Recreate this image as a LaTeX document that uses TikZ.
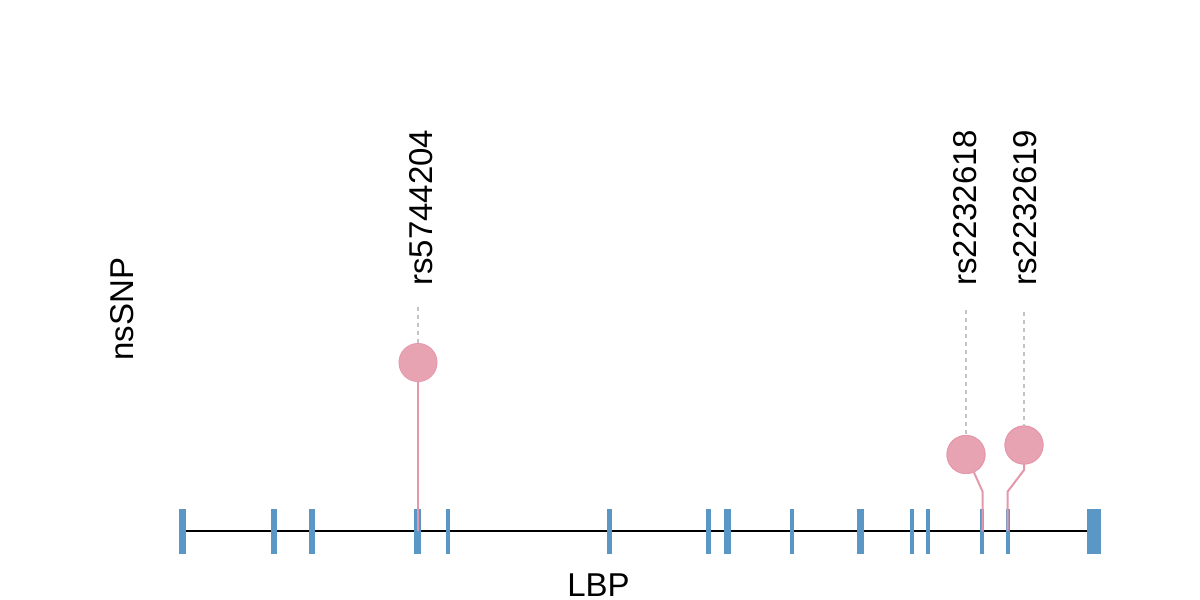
\documentclass[tikz,border=0pt]{standalone}
\usepackage{fontspec}
\setmainfont{Liberation Sans}
\begin{document}
\begin{tikzpicture}[x=1pt,y=-1pt,
  exon/.style={fill=exonblue,draw=none},
  lolly/.style={circle,fill=lollyfill,draw=lollyedge,line width=1pt,minimum size=38pt,inner sep=0pt},
  stem/.style={draw=lollyedge,line width=2pt},
  guide/.style={draw=guidegray,line width=2pt,dash pattern=on 4pt off 4pt},
  lbl/.style={font=\fontsize{33}{39}\selectfont,inner sep=0pt}]
\definecolor{exonblue}{HTML}{5B97C4}
\definecolor{lollyfill}{HTML}{E8A3B3}
\definecolor{lollyedge}{HTML}{E597AB}
\definecolor{guidegray}{HTML}{C4C4C4}
\useasboundingbox (0,0) rectangle (1200,600);
\fill[white] (0,0) rectangle (1200,600);
% backbone
\coordinate (bL) at (182,531);
\coordinate (bR) at (1094,531);
\draw[line width=2.5pt] (bL) -- (bR);
% exons
\foreach \a/\b in {179/185.5,271/276.5,309/315,414/420.5,446/450,607/611.5,706/711,724/731,790/794,857/864,910/914,926/930,980/984,1006/1010,1087/1101}{
  \fill[exon] (\a,509) rectangle (\b,554);
}
% lollipop 1
\coordinate (s1) at (418,531);
\node[lolly] (c1) at (418,362.5) {};
\coordinate (g1) at (418,307);
\draw[stem] (s1) -- (c1.center);
\fill[lollyfill] (c1.center) circle (18.5pt);
\draw[guide] (g1) -- (c1.north);
\node[lbl,rotate=90,anchor=base west] (t1) at (432,286) {rs5744204};
% lollipop 2
\coordinate (s2) at (982.5,531);
\coordinate (k2) at (982.5,491.5);
\node[lolly] (c2) at (966,454.5) {};
\coordinate (g2) at (966,310);
\draw[stem] (s2) -- (k2) -- (c2.center);
\node[lolly] at (c2) {};
\draw[guide] (g2) -- (c2.north);
\node[lbl,rotate=90,anchor=base west] (t2) at (976.5,286) {rs2232618};
% lollipop 3
\coordinate (s3) at (1007.7,531);
\coordinate (k3) at (1007.7,491.5);
\coordinate (j3) at (1024,470);
\node[lolly] (c3) at (1024,445) {};
\coordinate (g3) at (1024,312);
\draw[stem] (s3) -- (k3) -- (j3) -- (c3.center);
\node[lolly] at (c3) {};
\draw[guide] (g3) -- (c3.north);
\node[lbl,rotate=90,anchor=base west] (t3) at (1036.5,286) {rs2232619};
% axis labels
\node[lbl,rotate=90,anchor=base] (ylab) at (133,309) {nsSNP};
\node[lbl,anchor=base,text depth=0pt] (xlab) at (598.5,596) {LBP};
\end{tikzpicture}
\end{document}
